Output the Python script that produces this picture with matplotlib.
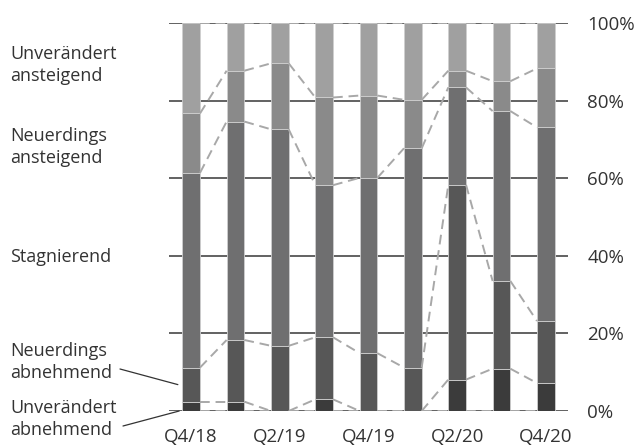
import numpy as np
import matplotlib.pyplot as plt

plt.rcParams['font.family'] = ['Open Sans', 'DejaVu Sans']

# Quartale
quartale = ['Q4/18', 'Q1/19', 'Q2/19', 'Q3/19', 'Q4/19', 'Q1/20', 'Q2/20', 'Q3/20', 'Q4/20']

# Anteile in % (von unten nach oben)
unv_abnehmend = [2.4, 2.4, 0.0, 3.0, 0.0, 0.0, 8.1, 10.9, 7.2]
neu_abnehmend = [8.8, 15.9, 16.8, 16.0, 14.9, 11.2, 50.2, 22.6, 16.0]
stagnierend = [50.2, 56.3, 55.8, 39.2, 45.2, 56.5, 25.1, 43.8, 49.9]
neu_ansteigend = [15.3, 13.1, 17.0, 22.6, 21.2, 12.5, 4.3, 7.7, 15.2]
unv_ansteigend = [23.3, 12.3, 10.4, 19.2, 18.7, 19.8, 12.3, 15.0, 11.7]

serien = [unv_abnehmend, neu_abnehmend, stagnierend, neu_ansteigend, unv_ansteigend]
farben = ['#3b3b3b', '#575757', '#6f6f70', '#8a8a8a', '#a0a0a0']

fig = plt.figure(figsize=(6.38, 4.48), dpi=100)
ax = fig.add_axes([169 / 638, 1 - 411 / 448, (568 - 169) / 638, (411 - 23) / 448])

x = np.arange(len(quartale))
breite = 0.4
unten = np.zeros(len(quartale))
for werte, farbe in zip(serien, farben):
    werte = np.array(werte)
    ax.bar(x, werte, breite, bottom=unten, color=farbe, edgecolor='#cfcfcf',
           linewidth=0.6, zorder=3)
    unten = unten + werte

# gestrichelte Verbindungslinien zwischen den Balken
grenzen = np.vstack([np.zeros(len(quartale)), np.cumsum(np.array(serien), axis=0)])
for g in grenzen:
    for i in range(len(quartale) - 1):
        ax.plot([x[i] + breite / 2, x[i + 1] - breite / 2], [g[i], g[i + 1]],
                color='#a8a8a8', lw=1.4, ls=(0, (5, 3)), zorder=4)

ax.set_xlim(-0.5, len(quartale) - 0.5)
ax.set_ylim(0, 100)
ax.set_yticks([0, 20, 40, 60, 80, 100])
ax.set_yticklabels(['0%', '20%', '40%', '60%', '80%', '100%'])
ax.yaxis.tick_right()
ax.yaxis.grid(True, color='#555555', lw=1.3, zorder=1)
ax.set_axisbelow(True)
ax.set_xticks(x[::2])
ax.set_xticklabels(quartale[::2])
ax.tick_params(length=0, labelsize=13.5, colors='#333333')
ax.tick_params(axis='y', pad=14)
ax.tick_params(axis='x', pad=12)
for s in ax.spines.values():
    s.set_visible(False)

# Beschriftungen links
beschriftung = [
    ('Unverändert\nansteigend', 65),
    ('Neuerdings\nansteigend', 147),
    ('Stagnierend', 257),
    ('Neuerdings\nabnehmend', 362),
    ('Unverändert\nabnehmend', 419),
]
for text, ypix in beschriftung:
    fig.text(10 / 638, 1 - ypix / 448, text, fontsize=13, color='#333333',
             va='center', ha='left', linespacing=1.3)

ax.annotate('', xy=(-0.3, unv_abnehmend[0] + neu_abnehmend[0] / 2),
            xytext=(120 / 638, 1 - 369 / 448), textcoords='figure fraction',
            arrowprops=dict(arrowstyle='-', color='#333333', lw=0.9,
                            shrinkA=0, shrinkB=0))
ax.annotate('', xy=(-0.27, 0), xytext=(123 / 638, 1 - 426 / 448),
            textcoords='figure fraction',
            arrowprops=dict(arrowstyle='-', color='#333333', lw=0.9,
                            shrinkA=0, shrinkB=0), annotation_clip=False)

fig.savefig('out.png', dpi=100)
